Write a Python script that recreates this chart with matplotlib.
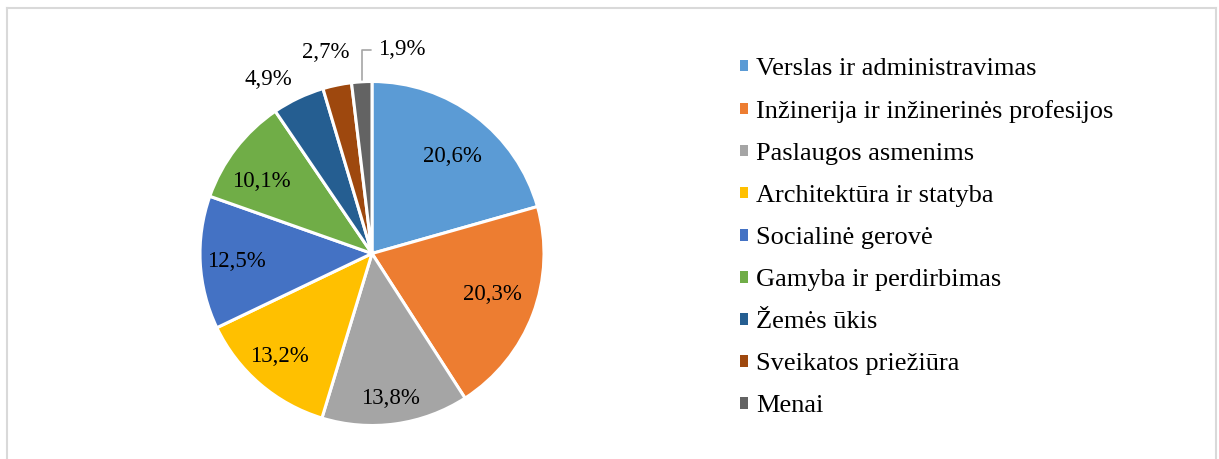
import matplotlib.pyplot as plt
import numpy as np
from matplotlib.patches import Patch
from matplotlib.lines import Line2D

plt.rcParams['font.family'] = ['Liberation Serif', 'DejaVu Serif']

categories = ["Verslas ir administravimas", "Inžinerija ir inžinerinės profesijos",
              "Paslaugos asmenims", "Architektūra ir statyba", "Socialinė gerovė",
              "Gamyba ir perdirbimas", "Žemės ūkis", "Sveikatos priežiūra", "Menai"]
values = [20.6, 20.3, 13.8, 13.2, 12.5, 10.1, 4.9, 2.7, 1.9]
labels = ["20,6%", "20,3%", "13,8%", "13,2%", "12,5%", "10,1%", "4,9%", "2,7%", "1,9%"]
colors = ['#5B9BD5', '#ED7D31', '#A5A5A5', '#FFC000', '#4472C4',
          '#70AD47', '#255E91', '#9E480E', '#636363']

W, H = 1219, 459
fig = plt.figure(figsize=(W / 100, H / 100), dpi=100)

# pie centre and radius in pixels
cx, cy, R = 372, 459 - 253.5, 172
ax = fig.add_axes([0, 0, 0.6, 1])
wedges, _ = ax.pie(values, colors=colors, startangle=90, counterclock=False,
                   radius=1, wedgeprops=dict(edgecolor='white', linewidth=2.2))
ax.set_xlim(-cx / R, (0.6 * W - cx) / R)
ax.set_ylim(-cy / R, (H - cy) / R)
ax.set_aspect('auto')
ax.axis('off')

# label placement: radius factor and pixel nudge (dx right, dy down)
lab_r = [0.78, 0.78, 0.78, 0.78, 0.78, 0.78, 1.12, 1.2, 1.0]
lab_nudge = [(0, 10), (-5, -6), (0, 12), (-5, 1), (-1.5, 1), (-4, 10), (3, 0), (-4, 1), (0, 0)]
lab_ha = ['center'] * 6 + ['right', 'center', 'left']

for w, lab, r, (dx, dy), ha in zip(wedges, labels, lab_r, lab_nudge, lab_ha):
    ang = np.deg2rad((w.theta1 + w.theta2) / 2)
    if ha == 'left':
        ax.annotate(lab, xy=(np.cos(ang), np.sin(ang)), xytext=(0.035, 1.185),
                    ha='left', va='center', fontsize=16.5,
                    arrowprops=dict(arrowstyle='-', color='#A5A5A5', lw=1.2,
                                    connectionstyle='angle,angleA=0,angleB=90,rad=0',
                                    shrinkA=3, shrinkB=1))
    else:
        ax.annotate(lab, xy=(r * np.cos(ang), r * np.sin(ang)),
                    xytext=(dx * 0.72, -dy * 0.72), textcoords='offset points',
                    ha=ha, va='center', fontsize=16.5)

handles = [Patch(facecolor=c, edgecolor='none') for c in colors]
fig.legend(handles, categories, loc='upper left', bbox_to_anchor=(740 / W, 1 - 58 / H),
           frameon=False, fontsize=19, handlelength=0.3, handleheight=0.3,
           handletextpad=0.3, labelspacing=0.76, borderaxespad=0, borderpad=0)

# light frame around chart area
fc = '#D9D9D9'
fig.add_artist(Line2D([7 / W, 1216 / W], [1 - 8 / H, 1 - 8 / H], color=fc, lw=1.5))
fig.add_artist(Line2D([7 / W, 7 / W], [0, 1 - 8 / H], color=fc, lw=1.5))
fig.add_artist(Line2D([1216 / W, 1216 / W], [0, 1 - 8 / H], color=fc, lw=1.5))

fig.savefig('out.png', dpi=100)
